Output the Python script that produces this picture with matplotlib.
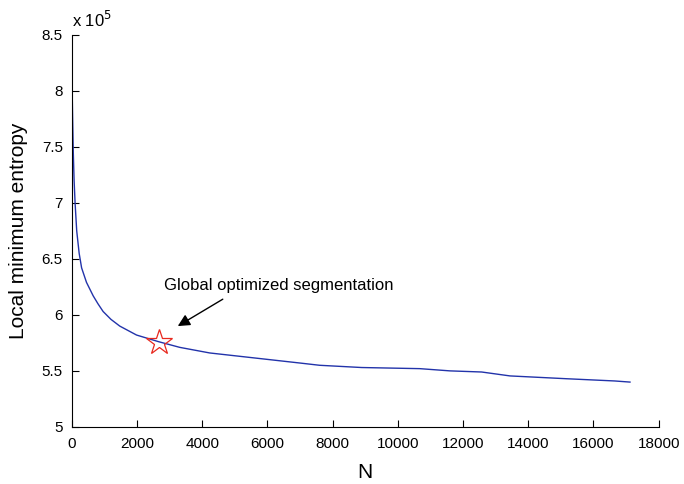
import matplotlib
matplotlib.use("Agg")
import matplotlib.pyplot as plt

plt.rcParams["font.family"] = ["Liberation Sans", "DejaVu Sans"]

# значения (энтропия в единицах 1e5)
n_vals = [0, 10, 25, 45, 70, 100, 150, 225, 300, 450, 655, 800, 960, 1200, 1470,
          1985, 2670, 3310, 4230, 5770, 7000, 7600, 8890, 10670, 11600, 12570,
          13440, 15170, 16650, 17120]
entropy = [8.22, 8.0, 7.75, 7.45, 7.2, 7.0, 6.75, 6.55, 6.42, 6.29, 6.17, 6.10,
           6.03, 5.96, 5.90, 5.82, 5.76, 5.71, 5.66, 5.61, 5.57, 5.55, 5.53, 5.52,
           5.50, 5.49, 5.455, 5.43, 5.41, 5.40]

best_n = 2670
best_val = 5.76

fig = plt.figure(figsize=(6.84, 4.84), dpi=100)
ax = fig.add_axes([0.105, 0.118, 0.858, 0.810])

ax.plot(n_vals, entropy, color="#2233aa", linewidth=1.0)
ax.plot(best_n, best_val, marker="*", markersize=19, markerfacecolor="none",
        markeredgecolor="#e8281e", markeredgewidth=0.9)

ax.text(2820, 6.26, "Global optimized segmentation", fontsize=12, ha="left", va="center")
ax.annotate("", xy=(3250, 5.90), xytext=(4630, 6.14),
            arrowprops=dict(arrowstyle="-|>", color="black", lw=1.0, mutation_scale=18,
                            shrinkA=0, shrinkB=0))

ax.set_xlim(0, 18000)
ax.set_ylim(5, 8.5)
ax.set_xticks(range(0, 18001, 2000))
ax.set_yticks([5, 5.5, 6, 6.5, 7, 7.5, 8, 8.5])
ax.set_yticklabels(["5", "5.5", "6", "6.5", "7", "7.5", "8", "8.5"])
ax.spines["top"].set_visible(False)
ax.spines["right"].set_visible(False)
ax.tick_params(direction="in", length=5, labelsize=11)
ax.tick_params(axis="x", pad=7)
ax.tick_params(axis="y", pad=6.5)

ax.text(0.0, 1.012, r"x 10$^5$", transform=ax.transAxes, fontsize=12, ha="left", va="bottom")
ax.set_xlabel("N", fontsize=15, labelpad=9)
ax.set_ylabel("Local minimum entropy", fontsize=15, labelpad=10)

plt.savefig("out.png", dpi=100)
